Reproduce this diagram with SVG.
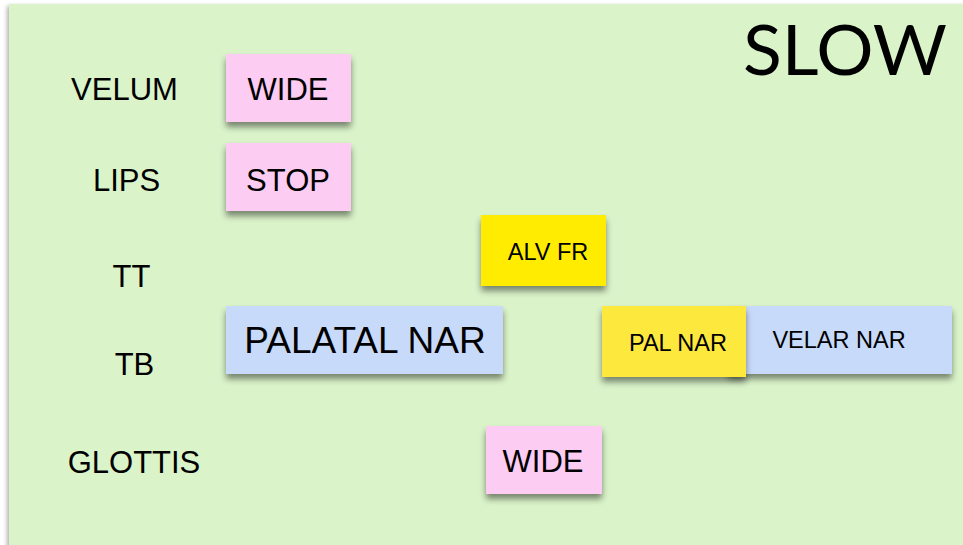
<svg xmlns="http://www.w3.org/2000/svg" width="963" height="545" viewBox="0 0 963 545">
  <defs>
    <filter id="sh" x="-20%" y="-20%" width="140%" height="160%">
      <feDropShadow dx="0" dy="5" stdDeviation="3" flood-color="#000" flood-opacity="0.45"/>
    </filter>
    <filter id="bgsh" x="-5%" y="-5%" width="110%" height="110%">
      <feDropShadow dx="-2" dy="2" stdDeviation="2" flood-color="#000" flood-opacity="0.3"/>
    </filter>
    <style>
      .lbl { font-family: "Liberation Sans", Arial, sans-serif; font-size: 31px; fill: #000; text-anchor: middle; }
      .big { font-family: "Liberation Sans", Arial, sans-serif; font-size: 31px; fill: #000; text-anchor: middle; }
      .sm { font-family: "Liberation Sans", Arial, sans-serif; font-size: 23.5px; fill: #000; text-anchor: middle; }
      .pink { fill: #FCCCF3; }
      .blue { fill: #C8DAFA; }
      .yel { fill: #FFEC00; }
      .yel2 { fill: #FDE83C; }
    </style>
  </defs>
  <rect x="0" y="0" width="963" height="545" fill="#ffffff"/>
  <rect x="9" y="4" width="960" height="545" fill="#DAF3C9" filter="url(#bgsh)"/>

  <text x="743" y="75" font-family="Lato, 'Open Sans', sans-serif" font-size="70" textLength="204" lengthAdjust="spacingAndGlyphs" fill="#000">SLOW</text>

  <g id="row-labels">
    <text class="lbl" x="124.5" y="100">VELUM</text>
    <text class="lbl" x="126.5" y="191">LIPS</text>
    <text class="lbl" x="131.5" y="287">TT</text>
    <text class="lbl" x="134.5" y="375">TB</text>
    <text class="lbl" x="134" y="473">GLOTTIS</text>
  </g>

  <g id="connectors"></g>

  <g id="velum-wide">
    <rect class="pink" x="226" y="54" width="125" height="68" filter="url(#sh)"/>
    <text class="big" x="288" y="100">WIDE</text>
  </g>
  <g id="lips-stop">
    <rect class="pink" x="226" y="143" width="125" height="68" filter="url(#sh)"/>
    <text class="big" x="288" y="191">STOP</text>
  </g>
  <g id="tt-alvfr">
    <rect class="yel" x="481" y="215" width="125" height="71" filter="url(#sh)"/>
    <text class="sm" x="548" y="260">ALV FR</text>
  </g>
  <g id="tb-palatal">
    <rect class="blue" x="226" y="306" width="277" height="68" filter="url(#sh)"/>
    <text class="big" x="365" y="353" style="font-size:37px">PALATAL NAR</text>
  </g>
  <g id="tb-velar">
    <rect class="blue" x="728" y="306" width="224" height="68" filter="url(#sh)"/>
    <text class="sm" x="839" y="348">VELAR NAR</text>
  </g>
  <g id="tb-palnar">
    <rect class="yel2" x="602" y="306" width="144" height="71" filter="url(#sh)"/>
    <text class="sm" x="678" y="351">PAL NAR</text>
  </g>
  <g id="glottis-wide">
    <rect class="pink" x="486" y="426" width="116" height="68" filter="url(#sh)"/>
    <text class="big" x="543" y="472">WIDE</text>
  </g>
</svg>
